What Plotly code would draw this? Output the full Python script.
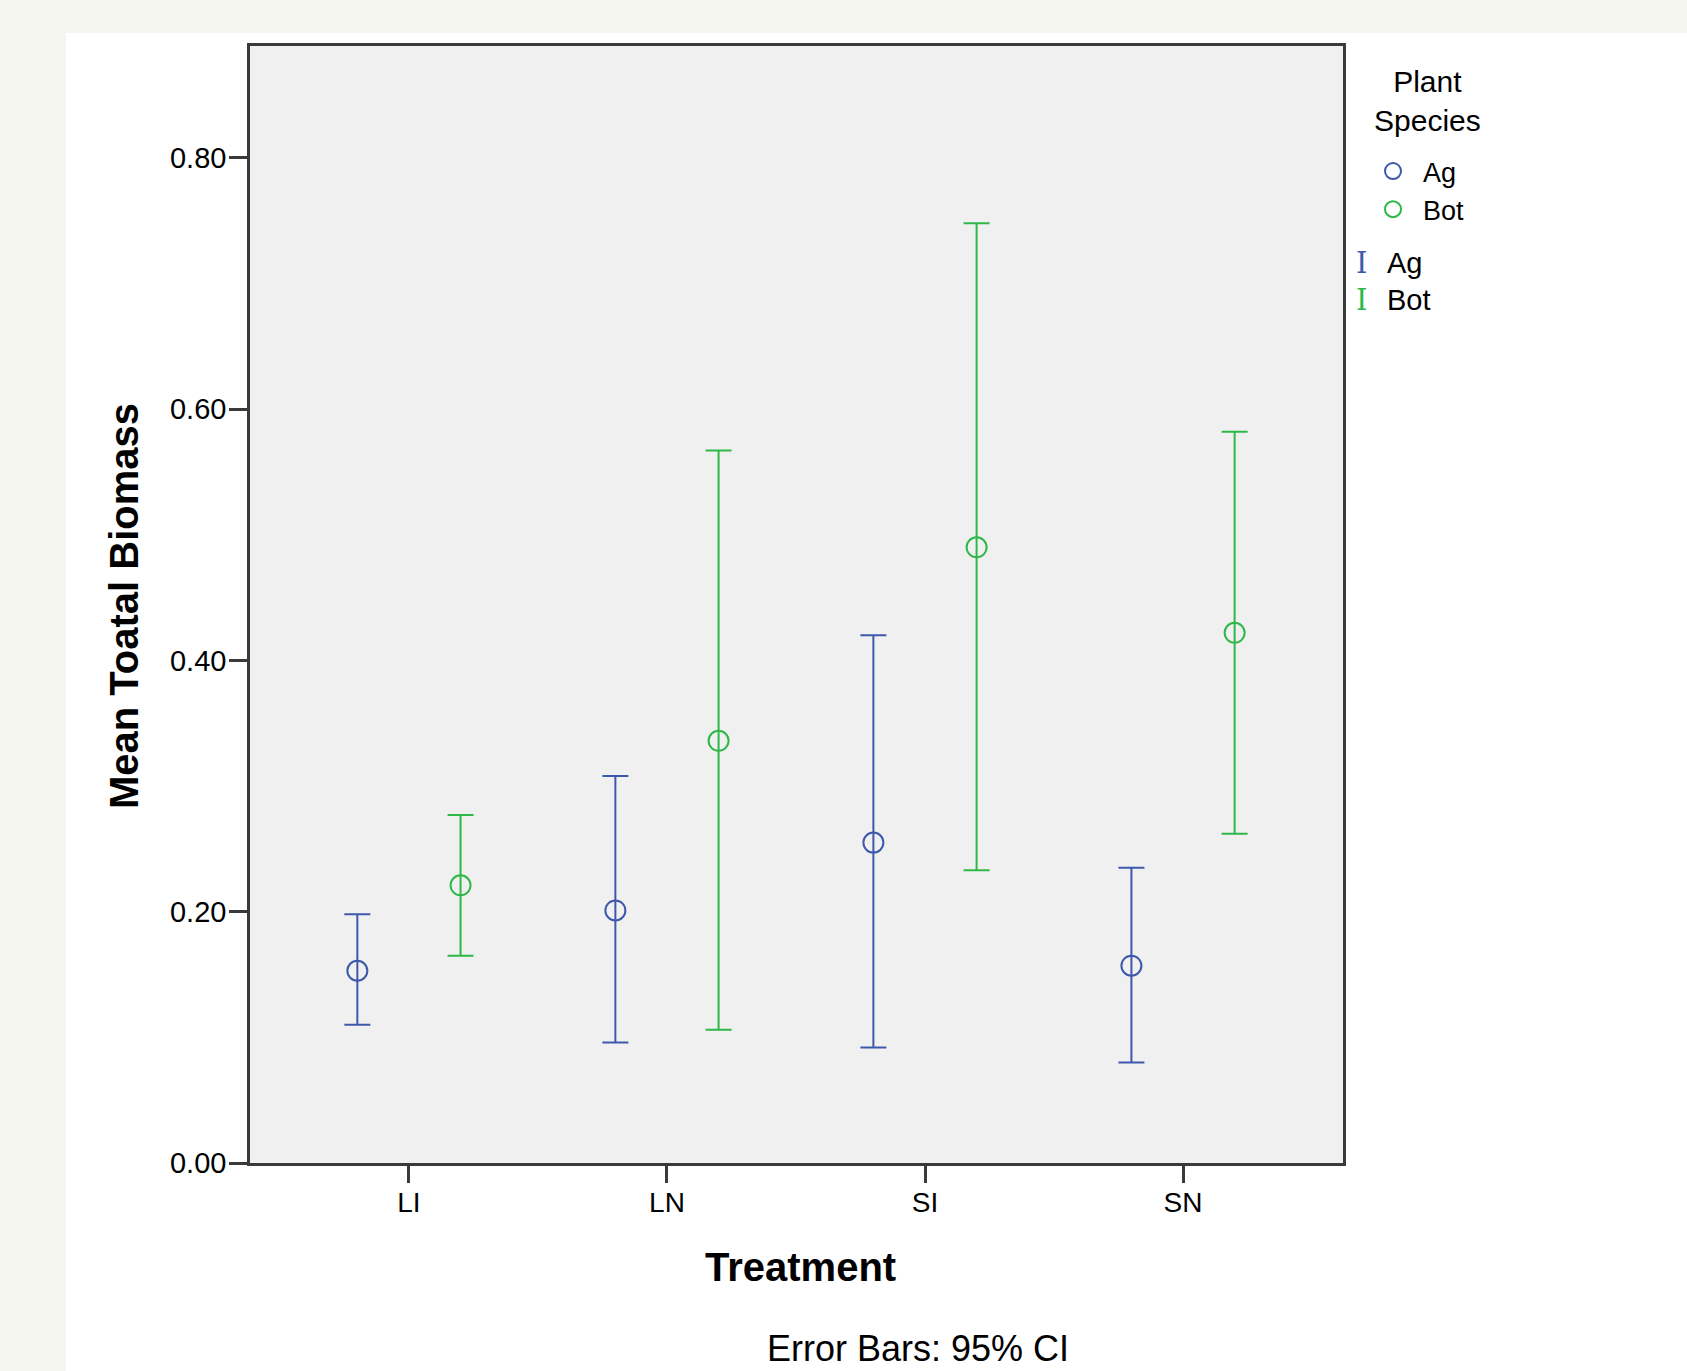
import plotly.graph_objects as go

treatments = ["LI", "LN", "SI", "SN"]
species = ["Ag", "Bot"]
mean_ag = [0.153, 0.201, 0.255, 0.157]
upper_ag = [0.198, 0.308, 0.420, 0.235]
lower_ag = [0.110, 0.096, 0.092, 0.080]
mean_bot = [0.221, 0.336, 0.490, 0.422]
upper_bot = [0.277, 0.567, 0.748, 0.582]
lower_bot = [0.165, 0.106, 0.233, 0.262]
y_ticks = [0.0, 0.2, 0.4, 0.6, 0.8]

colors = {"Ag": "#3e58ac", "Bot": "#2eb848"}
FONT = "Liberation Sans, Arial, sans-serif"

fig = go.Figure()
for sp, m, u, l in [("Ag", mean_ag, upper_ag, lower_ag), ("Bot", mean_bot, upper_bot, lower_bot)]:
    fig.add_trace(go.Scatter(
        x=treatments, y=m, name=sp, mode="markers",
        offsetgroup=sp, legendgroup=sp,
        marker=dict(symbol="circle-open", size=20, color=colors[sp], line=dict(width=2, color=colors[sp])),
        error_y=dict(type="data", symmetric=False,
                     array=[a - b for a, b in zip(u, m)],
                     arrayminus=[b - c for b, c in zip(m, l)],
                     color=colors[sp], thickness=2, width=13),
    ))

W, H = 1687, 1371
L, R, T, B = 250, 1343, 46, 1163

def px(x):
    return (x - L) / (R - L)

def py(y):
    return (B - y) / (B - T)

annotations = [
    dict(text="<b>Mean Toatal Biomass</b>", x=px(124), y=py(606), textangle=-90,
         font=dict(size=40, color="#000", family=FONT)),
    dict(text="<b>Treatment</b>", x=px(800), y=py(1267), font=dict(size=40, color="#000", family=FONT)),
    dict(text="Error Bars: 95% CI", x=px(918), y=py(1348), font=dict(size=36, color="#000", family=FONT)),
    dict(text="Plant<br>Species", x=px(1427), y=py(101), align="center",
         font=dict(size=30, color="#000", family=FONT)),
]
for i, sp in enumerate(species):
    yy = 263 + 37 * i
    annotations.append(dict(text="I", x=px(1362), y=py(yy), font=dict(size=29, color=colors[sp], family="DejaVu Serif")))
    annotations.append(dict(text=sp, x=px(1385), y=py(yy), xanchor="left", font=dict(size=29, color="#000", family=FONT)))
for a in annotations:
    a.update(xref="paper", yref="paper", showarrow=False, yanchor=a.get("yanchor", "middle"),
             xanchor=a.get("xanchor", "center"))

shapes = [
    dict(type="rect", xref="paper", yref="paper", x0=px(0), x1=px(W), y0=py(0), y1=py(33),
         fillcolor="#f4f6ef", line=dict(width=0), layer="below"),
    dict(type="rect", xref="paper", yref="paper", x0=px(0), x1=px(66), y0=py(0), y1=py(H),
         fillcolor="#f4f6ef", line=dict(width=0), layer="below"),
]

fig.update_layout(
    width=W, height=H,
    margin=dict(l=L, r=W - R, t=T, b=H - B, autoexpand=False),
    paper_bgcolor="white", plot_bgcolor="#f0f0f0",
    scattermode="group", scattergap=0.2,
    font=dict(family=FONT, color="#000"),
    showlegend=True,
    legend=dict(x=px(1363), xanchor="left", y=py(147), yanchor="top",
                font=dict(size=27), bgcolor="rgba(0,0,0,0)", tracegroupgap=0, itemwidth=50),
    annotations=annotations, shapes=shapes,
)
fig.update_xaxes(type="category", range=[-0.616, 3.62], showline=True, linecolor="#3a3a3a", linewidth=2.5,
                 mirror=True, ticks="outside", ticklen=17, tickwidth=2.5, tickcolor="#3a3a3a",
                 ticklabelstandoff=-4,
                 showgrid=False, zeroline=False, tickfont=dict(size=28, family=FONT))
fig.update_yaxes(range=[0, 0.889], tickvals=y_ticks, tickformat=".2f", showline=True, linecolor="#3a3a3a",
                 linewidth=2.5, mirror=True, ticks="outside", ticklen=18, tickwidth=2.5, tickcolor="#3a3a3a",
                 ticklabelstandoff=-3,
                 showgrid=False, zeroline=False, tickfont=dict(size=29, family=FONT))

fig.write_html("out.html", config={"displayModeBar": False},
               post_script="document.body.style.margin='0';")
